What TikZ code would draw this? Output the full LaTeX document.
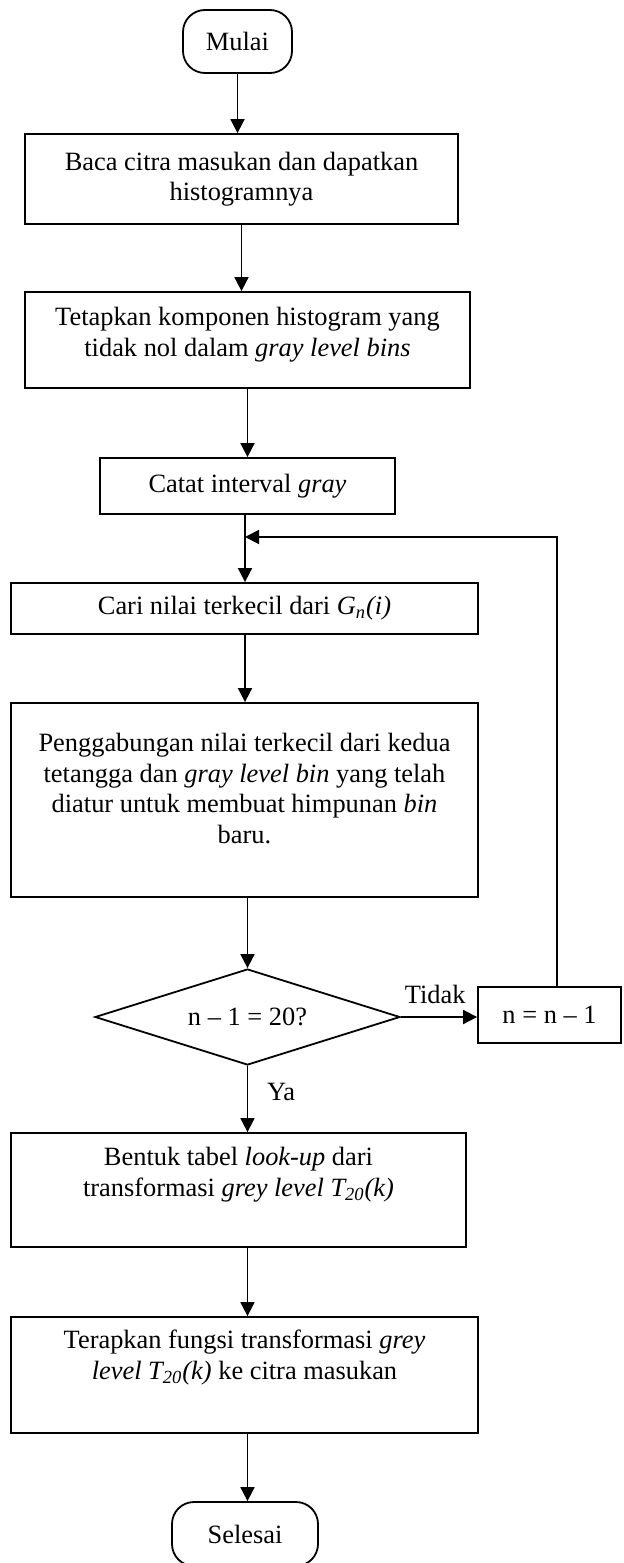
\documentclass[tikz,border=0pt]{standalone}
\usepackage{fontspec}
\setmainfont{Liberation Serif}
\usepackage{tikz}
\usetikzlibrary{calc}
\usetikzlibrary{shapes.geometric}
\usetikzlibrary{arrows.meta}

\tikzset{
  proses/.style={draw, line width=0.9pt, rectangle, align=center, inner sep=2pt},
  terminal/.style={draw, line width=0.9pt, rectangle, rounded corners=11pt, align=center},
  keputusan/.style={draw, line width=0.9pt, diamond, aspect=3, inner sep=1pt},
  panah/.style={line width=0.9pt, -{Triangle[length=7pt,width=7pt]}}
}

\begin{document}
\begin{tikzpicture}[x=0.5pt, y=-0.5pt, font=\fontsize{13.2pt}{15.3pt}\selectfont]
\useasboundingbox (0,0) rectangle (623,1563);

% Terminal Mulai
\node [terminal, minimum width=54.5pt, minimum height=31.5pt] (mulai) at (237.5,41.5) {Mulai};

% Box baca citra
\node [proses, minimum width=216.5pt, minimum height=45pt] (baca) at (241.5,179)
  {Baca citra masukan dan dapatkan\\histogramnya};

% Box tetapkan komponen
\node [proses, minimum width=222.5pt, minimum height=48pt, text depth=8pt] (tetap) at (247.5,340)
  {Tetapkan komponen histogram yang\\tidak nol dalam \textit{gray level bins}};

% Box catat interval
\node [proses, minimum width=147.5pt, minimum height=28pt] (catat) at (247.5,486)
  {Catat interval \textit{gray}};

% Box cari nilai terkecil
\node [proses, minimum width=233.5pt, minimum height=25.5pt] (cari) at (244.5,608.5)
  {Cari nilai terkecil dari \textit{G\textsubscript{n}(i)}};

% Box penggabungan
\node [proses, minimum width=233.5pt, minimum height=97pt, text depth=11.5pt] (gabung) at (244.5,800)
  {Penggabungan nilai terkecil dari kedua\\tetangga dan \textit{gray level bin} yang telah\\diatur untuk membuat himpunan \textit{bin}\\baru.};

% Decision n - 1 = 20?
\node [keputusan, minimum width=152.5pt, minimum height=48pt] (cek) at (247.5,1017) {n – 1 = 20?};

% Box n = n - 1
\node [proses, minimum width=71.5pt, minimum height=28pt] (nkurang) at (549.5,1015) {n = n – 1};

% Box bentuk tabel
\node [proses, minimum width=227.5pt, minimum height=57pt, text depth=18pt] (bentuk) at (238.5,1190)
  {Bentuk tabel \textit{look-up} dari\\transformasi \textit{grey level T\textsubscript{20}(k)}};

% Box terapkan fungsi
\node [proses, minimum width=233.5pt, minimum height=58pt, text depth=20.5pt] (terap) at (244.5,1375)
  {Terapkan fungsi transformasi \textit{grey}\\\textit{level T\textsubscript{20}(k)} ke citra masukan};

% Terminal Selesai
\node [terminal, minimum width=73pt, minimum height=32pt] (selesai) at (245,1534) {Selesai};

% Titik balik loop
\coordinate (balik) at (245,537);

% Drawing arrows
\draw [panah] (mulai.south) -- (mulai.south |- baca.north);
\draw [panah] (baca.south) -- (baca.south |- tetap.north);
\draw [panah] (tetap.south -| catat.south) -- (catat.north);
\draw [panah] (catat.south -| balik) -- (cari.north -| balik);
\draw [panah] (cari.south -| balik) -- (gabung.north -| balik);
\draw [panah] (gabung.south -| cek.south) -- (cek.north);
\draw [panah] (cek.south) -- (bentuk.north -| cek.south)
  node [pos=0.4, right, xshift=6pt] {Ya};
\draw [panah] (cek.east) -- (cek.east -| nkurang.west)
  node [pos=0.45, above, yshift=3pt] {Tidak};
\draw [panah] (bentuk.south -| cek.south) -- (terap.north -| cek.south);
\draw [panah] (terap.south -| cek.south) -- (selesai.north -| cek.south);

% Drawing loop back
\draw [panah] (nkurang.north -| 557,0) |- (balik);
\end{tikzpicture}
\end{document}
